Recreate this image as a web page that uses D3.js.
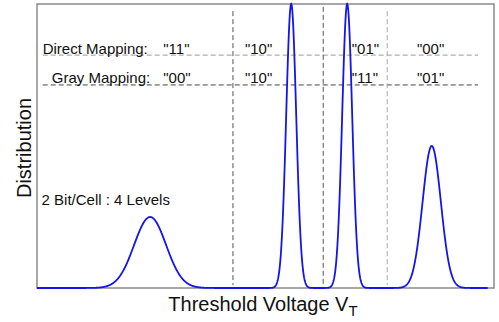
<!DOCTYPE html>
<html>
<head>
<meta charset="utf-8">
<script src="https://cdn.jsdelivr.net/npm/d3@7"></script>
<style>
  body { margin: 0; background: #fff; }
  text { font-family: "Liberation Sans", Arial, Helvetica, sans-serif; fill: #111; }
</style>
</head>
<body>
<div id="chart"></div>
<script>
// Threshold voltage levels (V) and their distribution shapes
const levelMean = [-1.02, 1.45, 2.43, 3.91];
const levelSigma = [0.28, 0.088, 0.088, 0.16];
const levelPeak = [0.25, 1.0, 1.0, 0.5];

// Read reference voltages (dashed vertical lines)
const readRefs = [0.43, 2.01, 3.13];
const readRefColors = ["#555", "#555", "#aaa"];

// Mapping rows
const mapNames = ["Direct Mapping:", "Gray Mapping:"];
const directCodes = ["\"11\"", "\"10\"", "\"01\"", "\"00\""];
const grayCodes = ["\"00\"", "\"10\"", "\"11\"", "\"01\""];
const mapLevels = [0.82, 0.715];

const width = 499, height = 322;
const margin = {top: 4, right: 5, bottom: 34, left: 37};

const svg = d3.select("#chart")
    .append("svg")
    .attr("width", width)
    .attr("height", height);

// Scales
const xScale = d3.scaleLinear().domain([-3, 5]).range([margin.left, width - margin.right]);
const yScale = d3.scaleLinear().domain([0, 1]).range([height - margin.bottom, margin.top]);

// Sample the summed distributions
const xs = d3.range(-3, 4.895, 0.005);
const curve = xs.map(v => {
    let s = 0;
    levelMean.forEach((m, i) => {
        s += levelPeak[i] * Math.exp(-((v - m) ** 2) / (2 * levelSigma[i] ** 2));
    });
    return [v, s];
});

// Frame
svg.append("rect")
    .attr("x", xScale(-3))
    .attr("y", yScale(1))
    .attr("width", xScale(5) - xScale(-3))
    .attr("height", yScale(0) - yScale(1))
    .attr("fill", "none")
    .attr("stroke", "#8a8a8a")
    .attr("stroke-width", 1.5);

// Horizontal mapping lines
svg.selectAll(".hline")
    .data(mapLevels)
    .enter()
    .append("line")
    .attr("x1", xScale(-2.9))
    .attr("x2", xScale(4.72))
    .attr("y1", d => yScale(d))
    .attr("y2", d => yScale(d))
    .attr("stroke", (d, i) => i === 0 ? "#9a9a9a" : "#444")
    .attr("stroke-width", 1)
    .attr("stroke-dasharray", "5,3");

// Read reference lines
svg.selectAll(".vline")
    .data(readRefs)
    .enter()
    .append("line")
    .attr("x1", d => xScale(d))
    .attr("x2", d => xScale(d))
    .attr("y1", (d, i) => yScale(i === 1 ? 0.99 : 0.975))
    .attr("y2", yScale(0.01))
    .attr("stroke", (d, i) => readRefColors[i])
    .attr("stroke-width", 1)
    .attr("stroke-dasharray", "5,3");

// Distribution curve
const line = d3.line()
    .x(d => xScale(d[0]))
    .y(d => yScale(d[1]));

svg.append("path")
    .datum(curve)
    .attr("d", line)
    .attr("fill", "none")
    .attr("stroke", "#1414f0")
    .attr("stroke-width", 1.8);

// Mapping labels
const nameX = [-2.9, -2.74];
const codeX = [-0.79, 0.64, 2.51, 3.65];
[directCodes, grayCodes].forEach((codes, r) => {
    const y = yScale(mapLevels[r]) - 1.5;
    svg.append("text")
        .attr("x", xScale(nameX[r]))
        .attr("y", y)
        .style("font-size", "15px")
        .text(mapNames[r]);
    svg.selectAll(".code" + r)
        .data(codes)
        .enter()
        .append("text")
        .attr("x", (d, i) => xScale(codeX[i]))
        .attr("y", y)
        .style("font-size", "15px")
        .text(d => d);
});

svg.append("text")
    .attr("x", xScale(-2.92))
    .attr("y", 205)
    .style("font-size", "15px")
    .text("2 Bit/Cell : 4 Levels");

// Axis titles
const xt = svg.append("text")
    .attr("x", 263)
    .attr("y", 311)
    .style("text-anchor", "middle")
    .style("font-size", "20px");
xt.append("tspan").text("Threshold Voltage V");
xt.append("tspan").attr("dy", 5).style("font-size", "15px").text("T");

svg.append("text")
    .attr("transform", "translate(31,148) rotate(-90)")
    .style("text-anchor", "middle")
    .style("font-size", "20px")
    .text("Distribution");
</script>
</body>
</html>
